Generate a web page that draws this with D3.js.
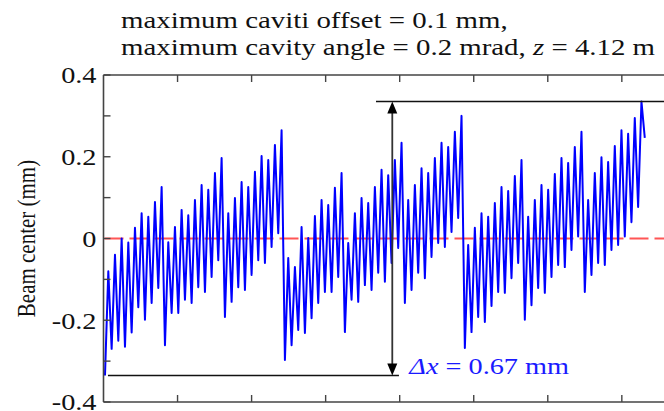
<!DOCTYPE html>
<html><head><meta charset="utf-8">
<script src="https://cdn.jsdelivr.net/npm/d3@7"></script>
<style>body{margin:0;background:#fff}svg{display:block}</style>
</head><body><svg id="c" width="664" height="411"></svg>
<script>
// ---------- data ----------
const titleLine1 = "maximum caviti offset = 0.1 mm,";
const titleLine2Parts = [["maximum cavity angle = 0.2 mrad, ", false], ["z", true], [" = 4.12 m", false]];
const yLabel = "Beam center (mm)";
const yTicks = [-0.4, -0.3, -0.2, -0.1, 0, 0.1, 0.2, 0.3, 0.4];
const yTickLabels = [-0.4, -0.2, 0, 0.2, 0.4];
const xTicks = [1, 2, 3, 4, 5, 6, 7];
const xDomain = [0, 7.61];
const sampleStart = 0.02;
const sampleStep = 0.045;
const period1 = [
 -0.335, -0.08, -0.27, -0.04, -0.25, 0.00, -0.265, -0.01, -0.23, 0.026, -0.168, 0.062, -0.199, 0.053, -0.158, 0.089, -0.121, 0.126,
 -0.261, -0.009, -0.182, 0.028, -0.182, 0.07, -0.15, 0.057, -0.158, 0.094, -0.119, 0.131, -0.131, 0.119, -0.094, 0.16, -0.053, 0.197,
 -0.192, 0.062, -0.155, 0.099, -0.119, 0.138, -0.126, 0.126, -0.089, 0.163, -0.053, 0.202, -0.06, 0.192, -0.021, 0.229, 0.013, 0.265
];
const period2 = [
 -0.297, -0.048, -0.261, -0.07, -0.224, 0.028, -0.231, 0.001, -0.195, 0.055, -0.158, 0.094, -0.131, 0.082, -0.131, 0.124, -0.094, 0.160,
 -0.229, -0.011, -0.15, 0.062, -0.155, 0.099, -0.114, 0.087, -0.126, 0.126, -0.084, 0.168, -0.106, 0.155, -0.06, 0.192, -0.023, 0.234,
 -0.158, 0.094, -0.126, 0.131, -0.084, 0.172, -0.097, 0.160, -0.045, 0.197, -0.011, 0.234, -0.021, 0.224, 0.016, 0.261, 0.050, 0.300
];
const period3 = [
 -0.268, -0.016, -0.229, 0.026, -0.192, 0.062, -0.204, 0.053, -0.165, 0.087, -0.131, 0.126, -0.133, 0.116, -0.097, 0.153, -0.06, 0.192,
 -0.199, 0.053, -0.163, 0.094, -0.121, 0.131, -0.133, 0.119, -0.094, 0.158, -0.065, 0.197, -0.07, 0.185, -0.028, 0.224, 0.005, 0.261,
 -0.131, 0.094, -0.089, 0.16, -0.06, 0.199, -0.065, 0.187, -0.028, 0.226, -0.016, 0.265, 0.005, 0.256, 0.04, 0.295, 0.077, 0.335, 0.246
];
const referenceLevel = 0;
const deltaLabel = " = 0.67 mm";
const topBarStart = 3.68;
const bottomBarStart = 0.06;
const bottomBarEnd = 3.99;
const arrowX = 3.90;

// ---------- layout ----------
const svg = d3.select("#c");
const L = 103.5, R = 667, T = 75, B = 402;
const x = d3.scaleLinear().domain(xDomain).range([L, R]);
const y = d3.scaleLinear().domain([-0.4, 0.4]).range([B, T]);
const serif = "'Liberation Serif','Times New Roman',serif";
const SX = 1.23;      // the reference figure is horizontally stretched
const SX_TITLE = 1.255;

const values = period1.concat(period2, period3);
const data = values.map((v, i) => ({t: sampleStart + i * sampleStep, v}));
const vMax = d3.max(values), vMin = d3.min(values);

// red reference line
svg.append("line")
  .attr("x1", L + 1).attr("x2", R).attr("y1", y(referenceLevel)).attr("y2", y(referenceLevel))
  .attr("stroke", "#ff5555").attr("stroke-width", 2).attr("stroke-dasharray", "19,6");

// blue trace
svg.append("path").datum(data)
  .attr("d", d3.line().x(d => x(d.t)).y(d => y(d.v)))
  .attr("fill", "none").attr("stroke", "#0000ff").attr("stroke-width", 2).attr("stroke-linejoin", "round");

// frame
const frameColor = "#444";
svg.append("line").attr("x1", L).attr("x2", L).attr("y1", T).attr("y2", B).attr("stroke", frameColor).attr("stroke-width", 1.6);
svg.append("line").attr("x1", L).attr("x2", R).attr("y1", T).attr("y2", T).attr("stroke", frameColor).attr("stroke-width", 1.6);
svg.append("line").attr("x1", L).attr("x2", R).attr("y1", B).attr("y2", B).attr("stroke", frameColor).attr("stroke-width", 1.6);

// y ticks (inward) + labels
svg.selectAll(".yt").data(yTicks).enter().append("line")
  .attr("x1", L).attr("x2", L + 7).attr("y1", d => y(d)).attr("y2", d => y(d))
  .attr("stroke", frameColor).attr("stroke-width", 1.4);
svg.selectAll(".yl").data(yTickLabels).enter().append("text")
  .attr("transform", d => `translate(${L - 7},${y(d)}) scale(${SX},1)`)
  .attr("dy", "0.36em")
  .attr("text-anchor", "end").attr("font-family", serif).attr("font-size", 23).attr("fill", "#111")
  .text(d => d === 0 ? "0" : (d < 0 ? "-" : "") + Math.abs(d).toFixed(1));

// x ticks (inward, top and bottom)
svg.selectAll(".xtt").data(xTicks).enter().append("line")
  .attr("x1", d => x(d)).attr("x2", d => x(d)).attr("y1", T).attr("y2", T + 7)
  .attr("stroke", frameColor).attr("stroke-width", 1.4);
svg.selectAll(".xtb").data(xTicks).enter().append("line")
  .attr("x1", d => x(d)).attr("x2", d => x(d)).attr("y1", B).attr("y2", B - 7)
  .attr("stroke", frameColor).attr("stroke-width", 1.4);

// y label
svg.append("text").attr("transform", `translate(35,${(T + B) / 2}) scale(${SX},1) rotate(-90)`)
  .attr("text-anchor", "middle").attr("font-family", serif).attr("font-size", 21).attr("fill", "#111")
  .text(yLabel);

// title
svg.append("text").attr("transform", `translate(121,28) scale(${SX_TITLE},1)`)
  .attr("font-family", serif).attr("font-size", 23).attr("fill", "#111")
  .text(titleLine1);
const t2 = svg.append("text").attr("transform", `translate(121,55) scale(${SX_TITLE},1)`)
  .attr("font-family", serif).attr("font-size", 23).attr("fill", "#111");
titleLine2Parts.forEach(([s, it]) => t2.append("tspan").attr("font-style", it ? "italic" : "normal").text(s));

// delta annotation
const barColor = "#111";
svg.append("line").attr("x1", x(topBarStart)).attr("x2", R).attr("y1", y(vMax)).attr("y2", y(vMax))
  .attr("stroke", barColor).attr("stroke-width", 1.6);
svg.append("line").attr("x1", x(bottomBarStart)).attr("x2", x(bottomBarEnd)).attr("y1", y(vMin)).attr("y2", y(vMin))
  .attr("stroke", barColor).attr("stroke-width", 1.6);
const ax = x(arrowX);
svg.append("line").attr("x1", ax).attr("x2", ax).attr("y1", y(vMax) + 8).attr("y2", y(vMin) - 8)
  .attr("stroke", "#333").attr("stroke-width", 1.8);
svg.append("path").attr("d", `M${ax},${y(vMax)}l-5,12h10z`).attr("fill", "#000");
svg.append("path").attr("d", `M${ax},${y(vMin)}l-5,-12h10z`).attr("fill", "#000");
const dt = svg.append("text").attr("transform", `translate(${ax + 17},${y(vMin) - 1}) scale(${SX},1)`)
  .attr("font-family", serif).attr("font-size", 23).attr("fill", "#1a1aff");
dt.append("tspan").attr("font-style", "italic").text("Δx");
dt.append("tspan").text(deltaLabel);
</script>
</body></html>
